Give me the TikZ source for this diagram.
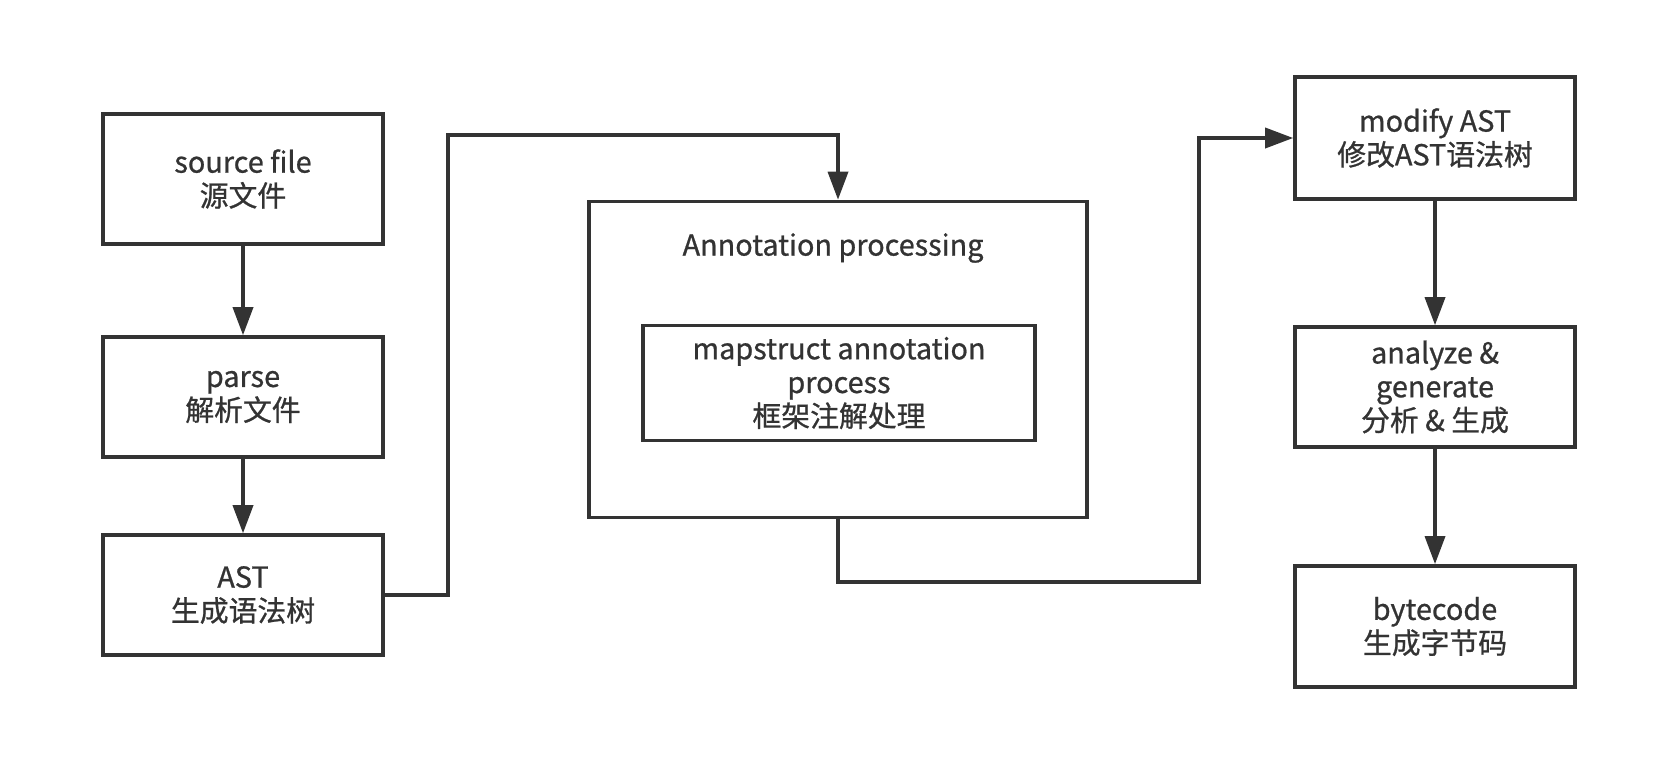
\documentclass[tikz,border=0pt]{standalone}
\usepackage{fontspec}
\setmainfont{Noto Sans CJK SC}[FakeBold=0.8]
\usetikzlibrary{arrows.meta}
\definecolor{boxgray}{HTML}{333333}

\begin{document}
\begin{tikzpicture}[x=0.025cm, y=-0.025cm]
  \tikzset{
    step_box/.style={rectangle, draw=boxgray, line width=2.5pt, minimum width=7cm, minimum height=3cm, align=center, text=boxgray, font=\fontsize{20.5}{24}\selectfont, inner sep=2pt},
    flow/.style={draw=boxgray, line width=2.5pt, -{Triangle[length=0.7cm, width=0.5cm]}},
    link/.style={draw=boxgray, line width=2.5pt}
  }

  % Marco de la figura
  \useasboundingbox (0,0) rectangle (1680,776);

  % Columna izquierda
  \node[step_box, minimum height=3.25cm] (src) at (243,179) {source file\\源文件};
  \node[step_box] (parse) at (243,397) {parse\\解析文件};
  \node[step_box] (ast) at (243,595) {AST\\生成语法树};

  % Caja central
  \node[step_box, minimum width=12.45cm, minimum height=7.9cm] (annot) at (838,359.5) {};
  \node[text=boxgray, font=\fontsize{20.5}{24}\selectfont] (annottitle) at (833,248) {Annotation processing};
  \node[step_box, minimum width=9.8cm, minimum height=2.87cm] (mapstruct) at (839,383) {mapstruct annotation\\process\\框架注解处理};

  % Columna derecha
  \node[step_box, minimum width=7cm, minimum height=3.05cm] (modify) at (1435,138) {modify AST\\修改AST语法树};
  \node[step_box, minimum width=7cm] (analyze) at (1435,387) {analyze \&\\generate\\分析 \& 生成};
  \node[step_box, minimum width=7cm, minimum height=3.03cm] (bytecode) at (1435,626.5) {bytecode\\生成字节码};

  % Puntos de quiebre
  \coordinate (up1) at (448,135);
  \coordinate (down1) at (1199,582);

  % Conexiones
  \draw[flow] (src) -- (parse);
  \draw[flow] (parse) -- (ast);
  \draw[flow] (ast.east) -| (up1) -| (annot.north);
  \draw[flow] (annot.south) |- (down1) |- (modify.west);
  \draw[flow] (modify) -- (analyze);
  \draw[flow] (analyze) -- (bytecode);
\end{tikzpicture}
\end{document}
